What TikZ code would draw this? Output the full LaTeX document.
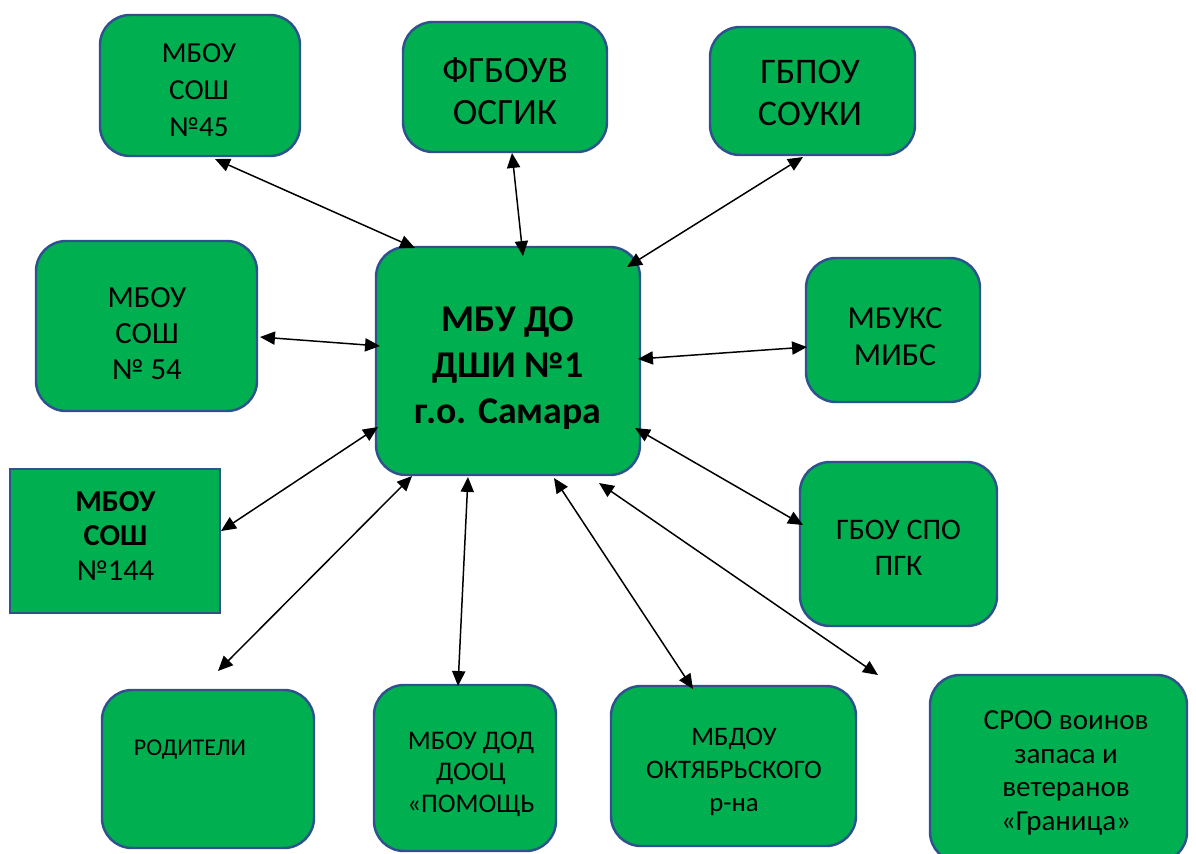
\documentclass[tikz,border=0pt]{standalone}
\usepackage{fontspec}
\setmainfont{Carlito}
\usetikzlibrary{arrows.meta,fit,calc}
\definecolor{boxgreen}{HTML}{00B050}
\definecolor{boxblue}{HTML}{2F528F}
\newcommand{\fs}[2]{\fontsize{#1}{#2}\selectfont}
\begin{document}
\begin{tikzpicture}[x=0.02cm,y=-0.02cm,
  box/.style={draw=boxblue, line width=1.4pt, fill=boxgreen, rounded corners=0.6cm,
    inner sep=0pt, outer sep=0pt},
  sharpbox/.style={box, rounded corners=0pt},
  txt/.style={inner sep=0pt, align=center},
  arr/.style={line width=0.85pt, {Triangle[length=8.5pt,width=7.5pt]}-{Triangle[length=8.5pt,width=7.5pt]}}]
\useasboundingbox (0,0) rectangle (1196,853);

% boxes
\node[box, fit={(100,15) (300,156)}] (B45) {};
\node[box, fit={(403,22) (607,152)}] (BOSGIK) {};
\node[box, fit={(710,27) (915,155)}] (BSOUKI) {};
\node[box, fit={(36,241) (257,411)}] (B54) {};
\node[box, fit={(376,247) (640,475)}] (C) {};
\node[box, fit={(806,258) (980,402)}] (BMIBS) {};
\node[sharpbox, fit={(10,469) (220,613)}] (B144) {};
\node[box, fit={(800,462) (997,626)}] (BPGK) {};
\node[box, fit={(102,690) (314,848)}] (BROD) {};
\node[box, fit={(374,685) (556,851)}] (BPOM) {};
\node[box, fit={(611,686) (856,846)}] (BOKT) {};
\node[box, fit={(930,675) (1187,862)}] (BSROO) {};

% texts
\node[txt, font=\fs{16.5}{21}] (T45) at (199,90) {МБОУ\\СОШ\\№45};
\node[txt, font=\fs{21.1}{23.9}] (TOSGIK) at (505,91) {ФГБОУВ\\ОСГИК};
\node[txt, font=\fs{20.5}{23.9}] (TSOUKI) at (810,92.5) {ГБПОУ\\СОУКИ};
\node[txt, font=\fs{17.5}{20.5}] (T54) at (147,333.5) {МБОУ\\СОШ\\№ 54};
\node[txt, font=\bfseries\fs{21.5}{26.2}] (TC) at (508,368) {МБУ ДО\\ДШИ №1\\г.о. Самара};
\node[txt, font=\fs{18.2}{21}] (TMIBS) at (895,336.5) {МБУКС\\МИБС};
\node[txt, font=\fs{17.3}{19.9}] (T144) at (115.5,536) {\textbf{МБОУ}\\\textbf{СОШ}\\№144};
\node[txt, font=\fs{17}{20.5}] (TPGK) at (898.5,548) {ГБОУ СПО\\ПГК};
\node[txt, font=\fs{13.7}{17}] (TROD) at (190,750) {РОДИТЕЛИ};
\node[txt, font=\fs{15.3}{17.9}] (TPOM) at (471,774) {МБОУ ДОД\\ДООЦ\\«ПОМОЩЬ};
\node[txt, font=\fs{15.2}{18.8}] (TOKT) at (734,772) {МБДОУ\\ОКТЯБРЬСКОГО\\р-на};
\node[txt, font=\fs{16.5}{19.1}] (TSROO) at (1066,773) {СРОО воинов\\запаса и\\ветеранов\\«Граница»};

% connectors
\draw[arr] ($(B45.north west)+(115,144)$) -- ($(C.north west)+(39,1)$);
\draw[arr] ($(BOSGIK.north west)+(109,131)$) -- ($(C.north west)+(147,9)$);
\draw[arr] ($(BSOUKI.north west)+(93,130)$) -- ($(C.north west)+(251,20)$);
\draw[arr] ($(B54.north west)+(224,96)$) -- ($(C.north west)+(4,99)$);
\draw[arr] ($(C.north west)+(262,112)$) -- ($(BMIBS.north west)+(1,89)$);
\draw[arr] ($(C.north west)+(2,180)$) -- ($(B144.north west)+(211,62)$);
\draw[arr] ($(C.north west)+(259,181)$) -- ($(BPGK.north west)+(3,63)$);
\draw[arr] ($(C.north west)+(36,229)$) -- ($(BROD.north west)+(116,-19)$);
\draw[arr] ($(C.north west)+(92,230)$) -- ($(BPOM.north west)+(84,1)$);
\draw[arr] ($(C.north west)+(178,231)$) -- ($(BOKT.north west)+(82,3)$);
\draw[arr] ($(C.north west)+(223,236)$) -- ($(BSROO.north west)+(-52,0)$);
\end{tikzpicture}
\end{document}
